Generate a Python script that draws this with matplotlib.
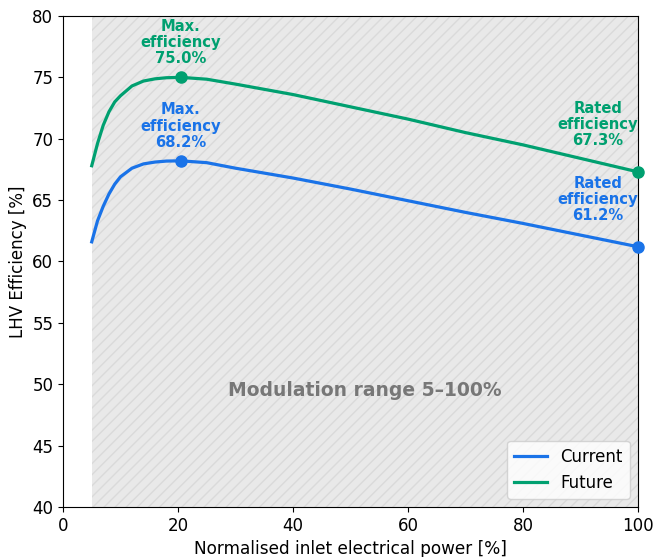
import matplotlib.pyplot as plt

# Normalised inlet electrical power [%]
power = [5, 6, 7, 8, 9, 10, 12, 14, 16, 18, 20.5, 25, 30, 40, 50, 60, 70, 80, 90, 100]

# LHV efficiency [%]
eff_current = [61.6, 63.3, 64.5, 65.5, 66.3, 66.9, 67.6, 67.95, 68.1, 68.18, 68.2,
               68.05, 67.6, 66.8, 65.9, 64.95, 64.0, 63.1, 62.15, 61.2]
eff_future = [67.8, 69.6, 71.1, 72.2, 73.0, 73.5, 74.3, 74.7, 74.88, 74.97, 75.0,
              74.85, 74.45, 73.6, 72.6, 71.6, 70.5, 69.5, 68.4, 67.3]

blue = '#1a73e8'
green = '#00a070'

fig = plt.figure(figsize=(6.54, 5.57), dpi=100)
ax = fig.add_axes([0.0963, 0.0898, 0.8792, 0.8815])

# shaded modulation range
ax.axvspan(power[0], power[-1], facecolor='#e9e9e9', edgecolor='#dadada',
           hatch='///', linewidth=0, zorder=0)

ax.plot(power, eff_current, color=blue, lw=2.3, label='Current', zorder=3)
ax.plot(power, eff_future, color=green, lw=2.3, label='Future', zorder=3)

i_cur = eff_current.index(max(eff_current))
i_fut = eff_future.index(max(eff_future))

for eff, i_max, col in [(eff_current, i_cur, blue), (eff_future, i_fut, green)]:
    ax.plot([power[i_max], power[-1]], [eff[i_max], eff[-1]], 'o', color=col,
            ms=8, zorder=4, clip_on=False)
    ax.annotate(f'Max.\nefficiency\n{eff[i_max]:.1f}%', (power[i_max], eff[i_max]),
                xytext=(0, 8), textcoords='offset points', ha='center', va='bottom',
                color=col, fontsize=10.6, fontweight='bold', linespacing=1.1)
    ax.annotate(f'Rated\nefficiency\n{eff[-1]:.1f}%', (power[-1], eff[-1]),
                xytext=(-29, 17), textcoords='offset points', ha='center', va='bottom',
                color=col, fontsize=10.6, fontweight='bold', linespacing=1.1)

ax.text(52.5, 49.5, 'Modulation range 5–100%', ha='center', va='center',
        fontsize=13.5, fontweight='bold', color='#777777')

ax.set_xlim(0, 100)
ax.set_ylim(40, 80)
ax.set_xticks(range(0, 101, 20))
ax.set_yticks(range(40, 81, 5))
ax.tick_params(labelsize=12)
ax.set_xlabel('Normalised inlet electrical power [%]', fontsize=12.2)
ax.set_ylabel('LHV Efficiency [%]', fontsize=12)
ax.legend(loc='lower right', fontsize=12)

fig.savefig('out.png', dpi=100)
